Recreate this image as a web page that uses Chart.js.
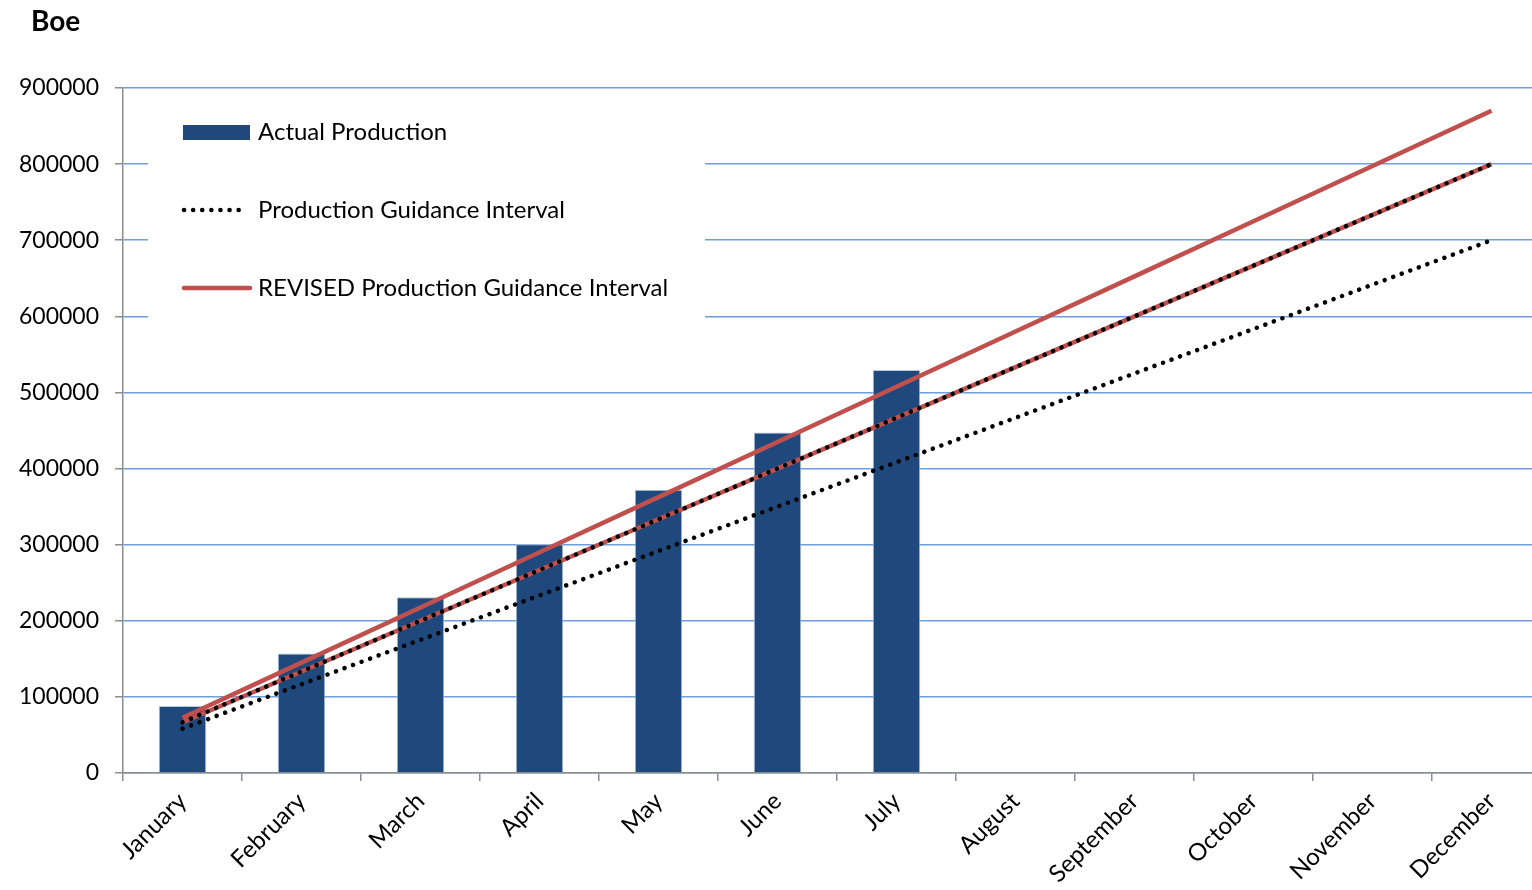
<!DOCTYPE html>
<html>
<head>
<meta charset="utf-8">
<script src="https://cdn.jsdelivr.net/npm/chart.js@4.4.1/dist/chart.umd.min.js"></script>
<style>
  html, body { margin: 0; padding: 0; background: #fff; overflow: hidden; width: 1532px; height: 890px; }
  #wrap { position: relative; width: 1532px; height: 890px; overflow: hidden; }
  canvas { position: absolute; left: 0; top: 0; }
  #unit { position: absolute; left: 31px; top: 3px; font-family: Lato, "Liberation Sans", sans-serif; font-weight: bold; font-size: 28px; color: #000; }
</style>
</head>
<body>
<div id="wrap">
  <canvas id="c" width="1551" height="890"></canvas>
  <div id="unit">Boe</div>
</div>
<script>
const months = ["January","February","March","April","May","June","July","August","September","October","November","December"];
const actualProduction = [88000, 157000, 231000, 300500, 372000, 447500, 529500, null, null, null, null, null];
const guidanceLow = [58333, 116667, 175000, 233333, 291667, 350000, 408333, 466667, 525000, 583333, 641667, 700000];
const guidanceHigh = [66667, 133333, 200000, 266667, 333333, 400000, 466667, 533333, 600000, 666667, 733333, 800000];
const revisedLow = [66667, 133333, 200000, 266667, 333333, 400000, 466667, 533333, 600000, 666667, 733333, 800000];
const revisedHigh = [72500, 145000, 217500, 290000, 362500, 435000, 507500, 580000, 652500, 725000, 797500, 870000];
const yTicks = [0, 100000, 200000, 300000, 400000, 500000, 600000, 700000, 800000, 900000];
const legendLabels = ["Actual Production", "Production Guidance Interval", "REVISED Production Guidance Interval"];

const BAR = '#1f497d', RED = '#c0504d', GRID = '#6e9fdc', AXIS = '#8c8c8c';
const FONT = 'Lato, "Liberation Sans", sans-serif';

const legendPlugin = {
  id: 'boxLegend',
  beforeDatasetsDraw(chart) {
    const ctx = chart.ctx;
    ctx.save();
    ctx.fillStyle = '#fff';
    ctx.fillRect(148, 100, 557, 235);
    ctx.fillStyle = BAR;
    ctx.fillRect(183, 125, 67, 15);
    ctx.strokeStyle = '#000';
    ctx.lineWidth = 4.5;
    ctx.lineCap = 'round';
    ctx.setLineDash([0.1, 9]);
    ctx.beginPath(); ctx.moveTo(184, 210); ctx.lineTo(246, 210); ctx.stroke();
    ctx.setLineDash([]);
    ctx.strokeStyle = RED;
    ctx.lineWidth = 4.5;
    ctx.beginPath(); ctx.moveTo(184, 288); ctx.lineTo(250, 288); ctx.stroke();
    ctx.fillStyle = '#000';
    ctx.font = '24px ' + FONT;
    ctx.textBaseline = 'middle';
    ctx.textAlign = 'left';
    ctx.fillText(legendLabels[0], 258, 132);
    ctx.fillText(legendLabels[1], 258, 210);
    ctx.fillText(legendLabels[2], 258, 288);
    ctx.restore();
  }
};

new Chart(document.getElementById('c'), {
  type: 'bar',
  data: {
    labels: months,
    datasets: [
      { type: 'bar', label: legendLabels[0], data: actualProduction, backgroundColor: BAR, borderColor: '#b8c8dc', borderWidth: 1, barPercentage: 0.4, categoryPercentage: 1.0, order: 10 },
      { type: 'line', label: legendLabels[2], data: revisedHigh, borderColor: RED, borderWidth: 4.5, pointRadius: 0, fill: false, tension: 0, order: 5 },
      { type: 'line', label: legendLabels[2] + ' low', data: revisedLow, borderColor: RED, borderWidth: 4.5, pointRadius: 0, fill: false, tension: 0, order: 4 },
      { type: 'line', label: legendLabels[1] + ' high', data: guidanceHigh, borderColor: '#000', borderWidth: 4.5, borderDash: [0.1, 9], borderCapStyle: 'round', pointRadius: 0, fill: false, tension: 0, order: 1 },
      { type: 'line', label: legendLabels[1], data: guidanceLow, borderColor: '#000', borderWidth: 4.5, borderDash: [0.1, 9], borderCapStyle: 'round', pointRadius: 0, fill: false, tension: 0, order: 1 }
    ]
  },
  options: {
    responsive: false,
    animation: false,
    devicePixelRatio: 1,
    layout: { padding: { top: 88, right: 0, left: 0, bottom: 0 } },
    plugins: { legend: { display: false }, tooltip: { enabled: false }, title: { display: false } },
    scales: {
      x: {
        offset: true,
        grid: { display: true, drawOnChartArea: false, offset: true, color: AXIS, tickColor: AXIS, tickLength: 8, lineWidth: 1.5 },
        border: { display: true, color: AXIS, width: 1.5 },
        ticks: { color: '#000', font: { family: FONT, size: 24 }, minRotation: 45, maxRotation: 45, padding: 6, autoSkip: false },
        afterFit: s => { s.height = 117; }
      },
      y: {
        min: 0, max: 900000,
        afterBuildTicks: s => { s.ticks = yTicks.map(v => ({ value: v })); },
        grid: { color: GRID, tickColor: AXIS, tickLength: 8, lineWidth: 1.5 },
        border: { display: true, color: AXIS, width: 1.5 },
        ticks: { color: '#000', font: { family: FONT, size: 23 }, padding: 16, callback: v => String(v) },
        afterFit: s => { s.width = 123; }
      }
    }
  },
  plugins: [legendPlugin]
});
</script>
</body>
</html>
